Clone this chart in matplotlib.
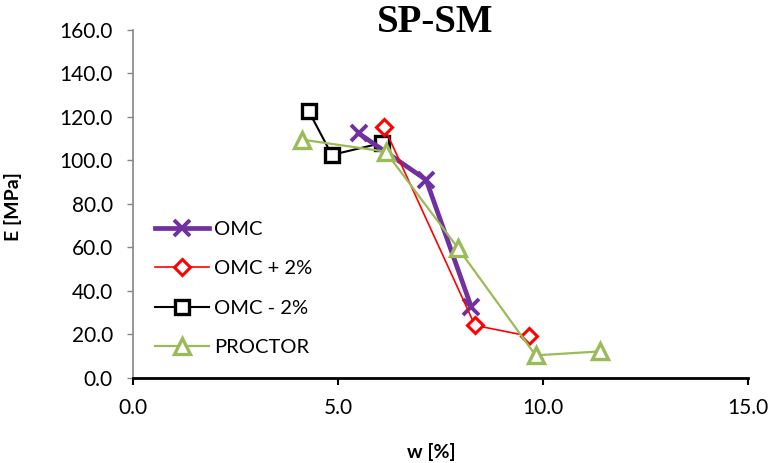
import matplotlib.pyplot as plt

# data
omc_w = [5.5, 7.15, 8.25]
omc_e = [112.5, 91.0, 32.5]

omc_plus_w = [6.12, 8.34, 9.67]
omc_plus_e = [115.5, 24.0, 19.0]

omc_minus_w = [4.29, 4.85, 6.08]
omc_minus_e = [122.5, 102.5, 108.0]

proctor_w = [4.13, 6.16, 7.93, 9.82, 11.38]
proctor_e = [109.5, 104.0, 59.5, 10.2, 12.0]

x_ticks = [0, 5, 10, 15]
y_ticks = [0, 20, 40, 60, 80, 100, 120, 140, 160]

label_font = "Lato"


def main():
    fig = plt.figure(figsize=(7.71, 4.63), dpi=100)
    ax = fig.add_axes([133 / 771, 1 - 377.5 / 463, 615 / 771, 347.5 / 463])

    ax.plot(omc_w, omc_e, color="#7030A0", lw=3.4, marker="x", ms=11, mew=2.8,
            label="OMC", zorder=3)
    ax.plot(omc_plus_w, omc_plus_e, color="#FF0000", lw=1.2, marker="D", ms=8,
            mew=2.2, mfc="white", label="OMC + 2%", zorder=4)
    ax.plot(omc_minus_w, omc_minus_e, color="black", lw=1.5, marker="s", ms=10.5,
            mew=2.4, mfc="white", label="OMC - 2%", zorder=2)
    ax.plot(proctor_w, proctor_e, color="#9BBB59", lw=1.6, marker="^", ms=11,
            mew=2.4, mfc="white", label="PROCTOR", zorder=5)

    ax.set_xlim(0, 15)
    ax.set_ylim(0, 160)
    ax.set_xticks(x_ticks)
    ax.set_yticks(y_ticks)
    ax.set_xticklabels([f"{v:.1f}" for v in x_ticks], fontfamily=label_font, fontsize=15)
    ax.set_yticklabels([f"{v:.1f}" for v in y_ticks], fontfamily=label_font, fontsize=15)

    for side in ["top", "right"]:
        ax.spines[side].set_visible(False)
    ax.spines["left"].set_color("#868686")
    ax.spines["left"].set_linewidth(1.2)
    ax.spines["left"].set_linestyle((0, (1, 1)))
    ax.spines["bottom"].set_color("black")
    ax.spines["bottom"].set_linewidth(2)

    ax.tick_params(axis="y", direction="out", length=4.5, width=1, color="#868686", pad=10)
    ax.tick_params(axis="x", direction="out", length=5, width=1.5, color="black", pad=10)

    ax.set_xlabel("w [%]", fontfamily=label_font, fontweight="bold", fontsize=14)
    ax.set_ylabel("E [MPa]", fontfamily=label_font, fontweight="bold", fontsize=14)
    ax.xaxis.set_label_coords((431 - 133) / 615, -(443 - 377.5) / 347.5)
    ax.yaxis.set_label_coords(-(133 - 22) / 615, (377.5 - 207) / 347.5)

    fig.text(435 / 771, 1 - 23 / 463, "SP-SM", ha="center", va="center",
             fontfamily="Liberation Serif", fontweight="bold", fontsize=28)

    ax.legend(loc="upper left", bbox_to_anchor=(155 / 771, 1 - 221 / 463),
              bbox_transform=fig.transFigure, frameon=False, numpoints=1,
              prop={"family": label_font, "size": 14.5}, handlelength=2.7,
              handletextpad=0.25, labelspacing=1.1, borderpad=0, borderaxespad=0)

    fig.savefig("out.png", dpi=100)


if __name__ == "__main__":
    main()
